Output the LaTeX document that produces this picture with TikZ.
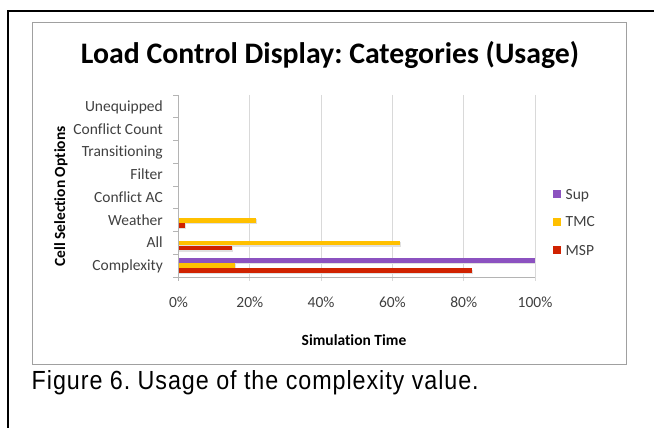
\documentclass[tikz,border=0pt]{standalone}
\usepackage{fontspec}
\setmainfont{Carlito}[Ligatures=NoCommon]
\newfontfamily\capfont{Liberation Sans}[FakeStretch=0.74,LetterSpace=3]
\frenchspacing
\definecolor{supc}{RGB}{140,82,192}
\definecolor{tmcc}{RGB}{255,192,0}
\definecolor{mspc}{RGB}{208,34,0}
\definecolor{gridc}{RGB}{217,217,217}
\definecolor{axisc}{RGB}{180,180,180}
\definecolor{borderc}{RGB}{160,160,160}
\definecolor{txtc}{RGB}{64,64,64}
\tikzset{
  frameline/.style={line width=2pt,black},
  chartbox/.style={draw=borderc,line width=0.9pt},
  gridline/.style={draw=gridc,line width=0.9pt},
  axisline/.style={draw=axisc,line width=0.9pt},
  catlabel/.style={anchor=base east,inner sep=0pt,text=txtc,font=\fontsize{15.5}{18}\selectfont},
  ticklabel/.style={anchor=base,inner sep=0pt,text=txtc,font=\fontsize{15.5}{18}\selectfont},
  axtitle/.style={inner sep=0pt,text=black,font=\fontsize{15.5}{18}\selectfont\bfseries},
  legtext/.style={anchor=base west,inner sep=0pt,text=txtc,font=\fontsize{15.5}{18}\selectfont},
  legkey/.style={minimum size=8pt,inner sep=0pt,draw=none},
  barshadow/.style={fill=black!12,draw=none},
}
\newcommand{\mybarplot}[4]{% y-center, value(%), colour, name
  \fill[barshadow] (178.5,#1-2.4+1.2) rectangle ({178.5+3.565*#2+1.2},#1+2.4+1.2);
  \fill[#3] (178.5,#1-2.4) rectangle ({178.5+3.565*#2},#1+2.4) coordinate (#4);
}
\begin{document}
\begin{tikzpicture}[x=1pt,y=-1pt]
\useasboundingbox (0,0) rectangle (654,428);
% outer frame
\draw[frameline] (7.5,430) -- (7.5,11) -- (656,11);
% chart box
\draw[chartbox] (32.5,22.7) rectangle (626,364);
% title
\node[anchor=base,inner sep=0pt] (title) at (330,64)
  {\resizebox{498pt}{!}{\bfseries Load Control Display: Categories (Usage)}};
% gridlines
\foreach \p in {20,40,60,80,100}{
  \draw[gridline] ({178.5+3.565*\p},95) -- ({178.5+3.565*\p},281);
}
% axes
\draw[axisline] (178.5,95) -- (178.5,281);
\draw[axisline] (173,277) -- (535,277);
\foreach \i in {0,...,8}{
  \draw[axisline] (173,{277-22.75*\i}) -- (178.5,{277-22.75*\i});
}
% category labels
\foreach \lab [count=\i from 0] in {Complexity,All,Weather,Conflict AC,Filter,Transitioning,Conflict Count,Unequipped}{
  \node[catlabel] (cat\i) at (163,{277-22.75*(\i+0.5)+5}) {\lab};
}
% x tick labels
\foreach \p in {0,20,40,60,80,100}{
  \node[ticklabel] (xt\p) at ({178.5+3.565*\p},307.3) {\p\%};
}
% axis titles
\node[axtitle,anchor=base] (xtitle) at (354,345.7) {Simulation Time};
\node[axtitle,rotate=90] (ytitle) at (61,196.5) {Cell Selection Options};
% bars: Complexity (center 265.6)
\mybarplot{260.2}{100}{supc}{b1}
\mybarplot{265.6}{15.8}{tmcc}{b2}
\mybarplot{270.7}{82.2}{mspc}{b3}
% All (center 242.9)
\mybarplot{242.9}{62}{tmcc}{b4}
\mybarplot{248.0}{15}{mspc}{b5}
% Weather (center 220.1)
\mybarplot{220.1}{21.6}{tmcc}{b6}
\mybarplot{225.2}{1.7}{mspc}{b7}
% legend
\node[legkey,fill=supc] (k1) at (557,194.3) {};
\node[legkey,fill=tmcc] (k2) at (557,221.7) {};
\node[legkey,fill=mspc] (k3) at (557,250) {};
\node[legtext] (l1) at (565.5,199.3) {Sup};
\node[legtext] (l2) at (565.5,226.7) {TMC};
\node[legtext] (l3) at (565.5,255) {MSP};
% caption
\node[anchor=base west,inner sep=0pt] (caption) at (31.5,389)
  {\resizebox{447pt}{19pt}{\capfont Figure 6. Usage of the complexity value.}};
\end{tikzpicture}
\end{document}
